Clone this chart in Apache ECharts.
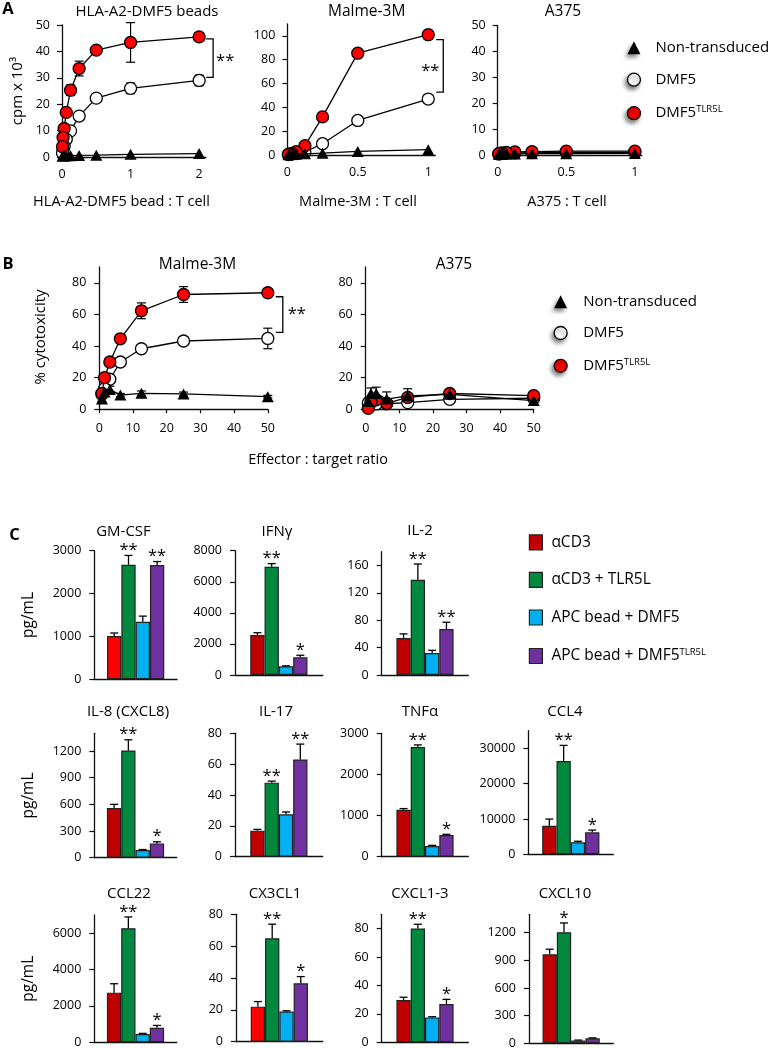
<!DOCTYPE html>
<html><head><meta charset="utf-8">
<script src="https://cdn.jsdelivr.net/npm/echarts@6/dist/echarts.min.js"></script>
<style>html,body{margin:0;padding:0;background:#fff}#c{width:772px;height:1048px}</style>
</head><body><div id="c"></div>
<script>
// ================= DATA =================
// Panel A: proliferation, cpm x 10^3
const beadRatios   = [2, 1, 0.5, 0.25, 0.125, 0.0625, 0.03125, 0.015625, 0.0078125];
const beadNon      = [1.3, 1.0, 0.7, 0.6, 0.5, 0.5, 0.5, 0.4, 0.4];
const beadDmf5     = [29, 26, 22.3, 15.5, 9.9, 6.7, 4.0, 2.5, 1.5];
const beadDmf5Err  = [2.0, 2.0, 1.0, 0.8, 0.8, 0.5, 0.4, 0.3, 0.3];
const beadTlr      = [45.5, 43.4, 40.5, 33.5, 25.3, 16.9, 10.8, 7.4, 3.9];
const beadTlrErr   = [1.5, 7.5, 1.2, 2.8, 2.0, 1.0, 0.8, 0.5, 0.5];

const cellRatios   = [1, 0.5, 0.25, 0.125, 0.0625, 0.03125, 0.015625, 0.0078125];
const malmeNon     = [4.5, 3.0, 1.5, 1.0, 0.7, 0.5, 0.4, 0.3];
const malmeDmf5    = [47, 29, 9.5, 2.5, 1.2, 0.8, 0.5, 0.3];
const malmeDmf5Err = [1.5, 1.0, 0.8, 0.3, 0.2, 0.2, 0.1, 0.1];
const malmeTlr     = [101, 85.5, 32, 7.8, 2.8, 1.4, 0.8, 0.5];
const malmeTlrErr  = [3.5, 1.5, 1.5, 0.8, 0.3, 0.2, 0.1, 0.1];
const a375Non      = [0.6, 0.5, 0.5, 0.4, 0.4, 0.3, 0.3, 0.3];
const a375Dmf5     = [1.0, 1.0, 0.9, 0.8, 0.7, 0.6, 0.5, 0.4];
const a375Tlr      = [1.5, 1.5, 1.3, 1.2, 1.0, 0.8, 0.6, 0.5];

// Panel B: % cytotoxicity
const etRatios      = [50, 25, 12.5, 6.25, 3.125, 1.5625, 0.78125];
const bMalmeNon     = [8, 9.7, 10.1, 9, 12.6, 11, 6.5];
const bMalmeNonErr  = [0.8, 1.2, 1.5, 1, 2, 1.5, 1.5];
const bMalmeDmf5    = [44.8, 43.2, 38.3, 29.9, 19, 13, 9.5];
const bMalmeDmf5Err = [6.5, 1.2, 1.5, 1, 1, 1, 1];
const bMalmeTlr     = [73.7, 72.6, 62.3, 44.6, 29.9, 20, 10];
const bMalmeTlrErr  = [1.5, 5, 5, 1.5, 1.5, 1.5, 1];
const bA375Non      = [5.5, 9.5, 8.5, 6.5, 10, 10, 5];
const bA375NonErr   = [0.5, 1, 4.5, 4.5, 4, 3.5, 2];
const bA375Dmf5     = [7, 6.3, 4.2, 3.5, 3.4, 4.5, 4];
const bA375Dmf5Err  = [0.5, 0.5, 0.5, 0.5, 0.5, 0.5, 0.5];
const bA375Tlr      = [8.6, 10, 7.5, 3.8, 6, 4.5, 0.6];
const bA375TlrErr   = [0.5, 0.8, 0.5, 0.5, 0.5, 0.5, 0.3];

// Panel C: cytokines, pg/mL
const cytokines  = ['GM-CSF', 'IFNγ', 'IL-2', 'IL-8 (CXCL8)', 'IL-17', 'TNFα', 'CCL4', 'CCL22', 'CX3CL1', 'CXCL1-3', 'CXCL10'];
const conditions = ['αCD3', 'αCD3 + TLR5L', 'APC bead + DMF5', 'APC bead + DMF5TLR5L'];
const cd3        = [1010, 2570, 54, 560, 16.9, 1140, 8080, 2730, 22, 29.7, 966];
const cd3Err     = [70, 150, 6, 40, 0.8, 30, 1900, 490, 3.2, 2, 55];
const cd3Tlr     = [2670, 6970, 139, 1207, 48, 2668, 26440, 6273, 65, 80, 1206];
const cd3TlrErr  = [220, 200, 23, 120, 1, 50, 4400, 620, 8.8, 3, 100];
const apcDmf5    = [1344, 560, 32, 86, 27.5, 261, 3390, 450, 18.9, 17.5, 30];
const apcDmf5Err = [130, 30, 4, 6, 1.5, 15, 300, 40, 0.5, 0.5, 5];
const apcTlr     = [2667, 1140, 67, 161, 63, 529, 6210, 797, 36.7, 26.9, 54];
const apcTlrErr  = [80, 130, 10, 18, 10, 15, 650, 130, 4.2, 3.3, 5];
const cd3TlrSig  = ['**', '**', '**', '**', '**', '**', '**', '**', '**', '**', '*'];
const apcTlrSig  = ['**', '*', '**', '*', '**', '*', '*', '*', '*', '*', ''];

// Tick labels
const beadXTicks = [0, 1, 2];
const cellXTicks = [0, 0.5, 1];
const aYTicks50  = [0, 10, 20, 30, 40, 50];
const aYTicks100 = [0, 20, 40, 60, 80, 100];
const bXTicks    = [0, 10, 20, 30, 40, 50];
const bYTicks    = [0, 20, 40, 60, 80];
const cYTicks = [
  [0, 1000, 2000, 3000], [0, 2000, 4000, 6000, 8000], [0, 40, 80, 120, 160],
  [0, 300, 600, 900, 1200], [0, 20, 40, 60, 80], [0, 1000, 2000, 3000], [0, 10000, 20000, 30000],
  [0, 2000, 4000, 6000], [0, 20, 40, 60, 80], [0, 20, 40, 60, 80], [0, 300, 600, 900, 1200]
];
const cYMax = [3000, 8000, 180, 1400, 80, 3000, 35000, 7000, 80, 90, 1400];

// ================= STYLE / LAYOUT =================
const FONT = '"Open Sans", "Noto Sans", sans-serif';
const INK = '#000';
const RED = '#ff0000';
const BAR_COLORS = ['#c00000', '#00893e', '#00b0f0', '#7030a0'];
const BRIGHT_RED_CHARTS = [0, 8];
const BAR_W = 14.3;
const cGrid = [
  [94.3, 550.7, 82.7, 128.6], [235, 550.7, 87.7, 124.3], [381.7, 551.7, 86.6, 123.3],
  [94.3, 733.3, 82.4, 124.4], [235, 733.3, 87.7, 123.4], [381.7, 733.3, 86.6, 123.4], [528.3, 730.7, 85, 123.6],
  [94.3, 915, 82.4, 127.3], [236, 914.3, 86.7, 127.4], [381.7, 914.3, 86.6, 128], [529, 914.3, 84.3, 129]
];
const cTitlePos = [[123.5, 531.7], [277, 531.7], [420, 530.7], [128, 711.7], [276, 711.7], [420, 711.7], [565, 711.7],
  [129, 893.3], [275, 893.3], [420, 893.3], [565, 893.3]];

const chart = echarts.init(document.getElementById('c'), null, { renderer: 'canvas', width: 772, height: 1048 });
const grid = [], xAxis = [], yAxis = [], series = [];
const axisLine = { show: true, onZero: false, lineStyle: { color: '#111', width: 1.3 } };
const plain = (v) => String(+v.toFixed(6));
const labelStyle = { color: INK, fontSize: 12.5, fontFamily: FONT, formatter: plain };

function addGrid(left, top, width, height) {
  grid.push({ left, top, width, height, containLabel: false, outerBoundsMode: 'none' });
  return grid.length - 1;
}
function addValueAxes(gi, xMax, xTicks, xTickShow, yMax, yTicks, ym) {
  xAxis.push({ type: 'value', gridIndex: gi, min: 0, max: xMax, axisLine,
    axisTick: { show: xTickShow, length: 4, lineStyle: { color: '#111', width: 1.2 }, customValues: xTicks },
    axisLabel: Object.assign({ customValues: xTicks, margin: xTickShow ? 13 : 11 }, labelStyle),
    splitLine: { show: false } });
  yAxis.push({ type: 'value', gridIndex: gi, min: 0, max: yMax, axisLine,
    axisTick: { show: true, length: 5, lineStyle: { color: '#111', width: 1.2 }, customValues: yTicks },
    axisLabel: Object.assign({ customValues: yTicks, margin: ym }, labelStyle),
    splitLine: { show: false } });
}
const MARK = {
  non:  { symbol: 'triangle', size: [12, 11], fill: '#000', bw: 0, z: 4 },
  dmf5: { symbol: 'circle', size: 12, fill: '#fff', bw: 1.3, z: 2 },
  tlr:  { symbol: 'circle', size: 12, fill: RED, bw: 1.3, z: 3 }
};
const NAMES = { non: 'Non-transduced', dmf5: 'DMF5', tlr: 'DMF5TLR5L' };
function lineSeries(gi, kind, xs, ys) {
  const m = MARK[kind];
  return { type: 'line', name: NAMES[kind], xAxisIndex: gi, yAxisIndex: gi, z: m.z, clip: false,
    data: xs.map((x, i) => [x, ys[i]]), symbol: m.symbol, symbolSize: m.size,
    itemStyle: { color: m.fill, borderColor: '#000', borderWidth: m.bw },
    lineStyle: { color: '#000', width: 1.3 }, emphasis: { disabled: true }, silent: true };
}
function errSeries(gi, xs, ys, es) {
  return { type: 'custom', xAxisIndex: gi, yAxisIndex: gi, z: 1, silent: true, clip: false,
    data: xs.map((x, i) => [x, ys[i], es[i]]),
    renderItem: (p, api) => {
      const x = api.value(0), y = api.value(1), e = api.value(2);
      const t = api.coord([x, y + e]), b = api.coord([x, Math.max(0, y - e)]);
      const cw = 4.5, st = { stroke: '#000', lineWidth: 1.2 };
      return { type: 'group', children: [
        { type: 'line', shape: { x1: t[0], y1: t[1], x2: b[0], y2: b[1] }, style: st },
        { type: 'line', shape: { x1: t[0] - cw, y1: t[1], x2: t[0] + cw, y2: t[1] }, style: st },
        { type: 'line', shape: { x1: b[0] - cw, y1: b[1], x2: b[0] + cw, y2: b[1] }, style: st }
      ] };
    } };
}
function addLinePanel(gi, xs, non, nonErr, dmf5, dmf5Err, tlr, tlrErr) {
  if (nonErr) series.push(errSeries(gi, xs, non, nonErr));
  if (dmf5Err) series.push(errSeries(gi, xs, dmf5, dmf5Err));
  if (tlrErr) series.push(errSeries(gi, xs, tlr, tlrErr));
  series.push(lineSeries(gi, 'dmf5', xs, dmf5));
  series.push(lineSeries(gi, 'tlr', xs, tlr));
  series.push(lineSeries(gi, 'non', xs, non));
}

// ---- Panel A ----
const gA1 = addGrid(62, 25, 144, 132);
addValueAxes(gA1, 2.1, beadXTicks, false, 50, aYTicks50, 12);
addLinePanel(gA1, beadRatios, beadNon, null, beadDmf5, beadDmf5Err, beadTlr, beadTlrErr);
const gA2 = addGrid(287.3, 24, 148, 131);
addValueAxes(gA2, 1.05, cellXTicks, false, 110, aYTicks100, 12);
addLinePanel(gA2, cellRatios, malmeNon, null, malmeDmf5, malmeDmf5Err, malmeTlr, malmeTlrErr);
const gA3 = addGrid(497.7, 25.5, 144, 129.5);
addValueAxes(gA3, 1.05, cellXTicks, false, 50, aYTicks50, 12);
addLinePanel(gA3, cellRatios, a375Non, null, a375Dmf5, null, a375Tlr, null);
// ---- Panel B ----
const gB1 = addGrid(99.3, 267, 168.5, 142.3);
addValueAxes(gB1, 50, bXTicks, true, 90, bYTicks, 13);
addLinePanel(gB1, etRatios, bMalmeNon, bMalmeNonErr, bMalmeDmf5, bMalmeDmf5Err, bMalmeTlr, bMalmeTlrErr);
const gB2 = addGrid(365.7, 267, 168, 142.3);
addValueAxes(gB2, 50, bXTicks, true, 90, bYTicks, 13);
addLinePanel(gB2, etRatios, bA375Non, bA375NonErr, bA375Dmf5, bA375Dmf5Err, bA375Tlr, bA375TlrErr);

// ---- Panel C ----
const condVals = [cd3, cd3Tlr, apcDmf5, apcTlr];
const condErrs = [cd3Err, cd3TlrErr, apcDmf5Err, apcTlrErr];
cytokines.forEach((name, k) => {
  const g = cGrid[k];
  const gi = addGrid(g[0], g[1], g[2], g[3]);
  xAxis.push({ type: 'category', gridIndex: gi, data: [name], axisLine,
    axisTick: { show: false }, axisLabel: { show: false }, splitLine: { show: false } });
  yAxis.push({ type: 'value', gridIndex: gi, min: 0, max: cYMax[k], axisLine,
    axisTick: { show: true, length: 5, lineStyle: { color: '#111', width: 1.2 }, customValues: cYTicks[k] },
    axisLabel: Object.assign({ customValues: cYTicks[k], margin: 13 }, labelStyle),
    splitLine: { show: false } });
  conditions.forEach((cond, j) => {
    let color = BAR_COLORS[j];
    if (j === 0 && BRIGHT_RED_CHARTS.includes(k)) color = RED;
    series.push({ type: 'bar', name: cond, xAxisIndex: gi, yAxisIndex: gi, data: [condVals[j][k]],
      barWidth: BAR_W, barGap: '0%', silent: true,
      itemStyle: { color, borderColor: '#222', borderWidth: 1.2 } });
  });
  const sigs = ['', cd3TlrSig[k], '', apcTlrSig[k]];
  series.push({ type: 'custom', xAxisIndex: gi, yAxisIndex: gi, z: 5, silent: true, clip: false,
    encode: { x: 0, y: 1 },
    data: conditions.map((c, j) => [0, condVals[j][k], condErrs[j][k]]),
    renderItem: (p, api) => {
      const j = p.dataIndex;
      const v = api.value(1), e = api.value(2);
      const base = api.coord([0, v]), top = api.coord([0, v + e]);
      const cx = base[0] + (j - 1.5) * BAR_W;
      const st = { stroke: '#000', lineWidth: 1.3 };
      const ch = [
        { type: 'line', shape: { x1: cx, y1: base[1], x2: cx, y2: top[1] }, style: st },
        { type: 'line', shape: { x1: cx - 4, y1: top[1], x2: cx + 4, y2: top[1] }, style: st }
      ];
      if (sigs[j]) ch.push({ type: 'text', style: { text: sigs[j], x: cx, y: top[1] - 5, align: 'center',
        verticalAlign: 'middle', fontSize: 16.5, fontFamily: FONT, fill: INK } });
      return { type: 'group', children: ch };
    } });
});

// ---- Legends ----
const richLegend = (size) => ({
  m: { fontSize: size, fontFamily: FONT, color: INK, lineHeight: 18 },
  s: { fontSize: 9.5, fontFamily: FONT, color: INK, lineHeight: 10, verticalAlign: 'top' }
});
const supFormatter = (n) => n.endsWith('TLR5L') && n !== 'αCD3 + TLR5L'
  ? '{m|' + n.slice(0, -5) + '}{s|TLR5L}' : '{m|' + n + '}';
const shadow = { shadowBlur: 4, shadowColor: 'rgba(0,0,0,0.5)', shadowOffsetX: -2, shadowOffsetY: 3 };
function markerLegend(left, top, gap, pad) {
  return { left, top, orient: 'vertical', padding: 0, itemWidth: 13, itemHeight: 13, itemGap: gap,
    selectedMode: false, formatter: supFormatter,
    textStyle: { color: INK, fontSize: 15, fontFamily: FONT, padding: [0, 0, 0, pad], rich: richLegend(15) },
    data: [
      { name: 'Non-transduced', icon: 'triangle', itemStyle: Object.assign({ color: '#000', borderWidth: 0 }, shadow) },
      { name: 'DMF5', icon: 'circle', itemStyle: Object.assign({ color: '#fff', borderColor: '#000', borderWidth: 1.3 }, shadow) },
      { name: 'DMF5TLR5L', icon: 'circle', itemStyle: Object.assign({ color: RED, borderColor: '#000', borderWidth: 1.3 }, shadow) }
    ] };
}
const legend = [
  markerLegend(626.8, 40.2, 17, 10),
  markerLegend(553.5, 294.2, 16.3, 11),
  { left: 528.8, top: 534.2, orient: 'vertical', padding: 0, itemWidth: 13, itemHeight: 15, itemGap: 21.4,
    selectedMode: false, formatter: supFormatter,
    textStyle: { color: INK, fontSize: 15.5, fontFamily: FONT, padding: [0, 0, 0, 4], rich: richLegend(15.5) },
    data: conditions.map((c, j) => ({ name: c, icon: 'rect',
      itemStyle: { color: BAR_COLORS[j], borderColor: '#222', borderWidth: 1.2 } })) }
];

chart.setOption({ animation: false, backgroundColor: '#fff', grid, xAxis, yAxis, series, legend });

// ---- Text & annotations ----
const g = [];
function txt(text, x, y, size, opt) {
  opt = opt || {};
  const el = { type: 'text', x, y, rotation: opt.rot || 0, silent: true,
    style: { text, x: 0, y: 0, align: 'center', verticalAlign: 'middle', fill: INK,
      fontSize: size, fontFamily: FONT, fontWeight: opt.bold ? 'bold' : 'normal' } };
  g.push(el);
}
txt('A', 8, 9.5, 16.5, { bold: true });
txt('B', 8, 264, 16.5, { bold: true });
txt('C', 14.5, 535, 16.5, { bold: true });
txt('HLA-A2-DMF5 beads', 147, 12, 15);
txt('Malme-3M', 366.7, 12, 15.5);
txt('A375', 563, 12, 15.5);
txt('Malme-3M', 197.5, 265, 15.5);
txt('A375', 454, 265, 15.5);
txt('HLA-A2-DMF5 bead : T cell', 121.5, 202, 14.5);
txt('Malme-3M : T cell', 358, 202, 14.5);
txt('A375 : T cell', 567, 202, 14.5);
txt('Effector : target ratio', 318, 460, 14.5);
txt('cpm x 10³', 18, 91, 15, { rot: Math.PI / 2 });
txt('% cytotoxicity', 40.7, 337, 15, { rot: Math.PI / 2 });
txt('pg/mL', 29, 615, 15.5, { rot: Math.PI / 2 });
txt('pg/mL', 29, 795.5, 15.5, { rot: Math.PI / 2 });
txt('pg/mL', 29, 978.7, 15.5, { rot: Math.PI / 2 });
cytokines.forEach((c, k) => txt(c, cTitlePos[k][0], cTitlePos[k][1], 15));

// significance brackets between DMF5TLR5L and DMF5 at the highest ratio
const brackets = [
  { gi: gA1, x: beadRatios[0], hi: beadTlr[0], lo: beadDmf5[0], dx: 14, tp: 2, bp: 3, star: 12, sy: -1 },
  { gi: gA2, x: cellRatios[0], hi: malmeTlr[0], lo: malmeDmf5[0], dx: 15, tp: 5, bp: 7, star: -13, sy: 1 },
  { gi: gB1, x: etRatios[0], hi: bMalmeTlr[0], lo: bMalmeDmf5[0], dx: 15, tp: 4, bp: 6, star: 14, sy: -4 }
];
brackets.forEach(b => {
  const p1 = chart.convertToPixel({ gridIndex: b.gi }, [b.x, b.hi]);
  const p2 = chart.convertToPixel({ gridIndex: b.gi }, [b.x, b.lo]);
  const x = p1[0] + b.dx, y1 = p1[1] + b.tp, y2 = p2[1] - b.bp;
  g.push({ type: 'polyline', silent: true, shape: { points: [[x - 7, y1], [x, y1], [x, y2], [x - 7, y2]] },
    style: { stroke: '#000', lineWidth: 1.3, fill: null } });
  txt('**', x + b.star, (y1 + y2) / 2 + b.sy + 4, 16.5);
});
chart.setOption({ graphic: { elements: g } });
</script></body></html>
